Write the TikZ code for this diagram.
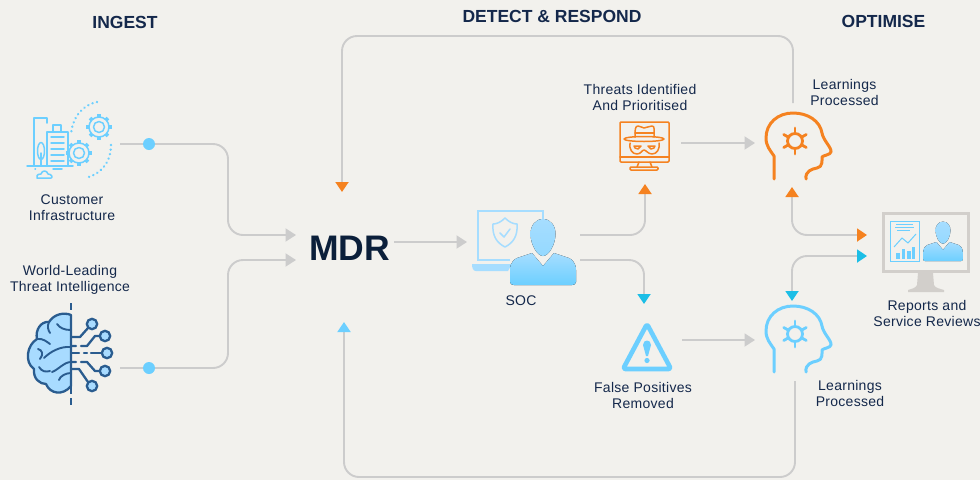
\documentclass[tikz,border=0pt]{standalone}
\usepackage{fontspec}
\setmainfont{Liberation Sans}
\newfontfamily\labelfont[LetterSpace=2]{Liberation Sans}
\usepackage{xcolor}
\usetikzlibrary{calc,arrows.meta}
\definecolor{pagebg}{HTML}{F2F1ED}
\definecolor{ink}{HTML}{14284B}
\definecolor{mdrink}{HTML}{0B1F3A}
\definecolor{flowgray}{HTML}{CCCCCC}
\definecolor{screen}{HTML}{D2CFCB}
\definecolor{sky}{HTML}{6CCFFF}
\definecolor{pale}{HTML}{A6DDFF}
\definecolor{aqua}{HTML}{1CBEE6}
\definecolor{amber}{HTML}{F58220}
\definecolor{brainblue}{HTML}{2A5C8F}
\definecolor{brainfill}{HTML}{A8DBFF}
\tikzset{
  flowline/.style={draw=flowgray, line width=1.9pt, rounded corners=15pt},
  graytip/.style={-{Triangle[length=10.5pt,width=13pt,color=flowgray]}},
  ambertip/.style={-{Triangle[length=10pt,width=13pt,color=amber]}},
  aquatip/.style={-{Triangle[length=10pt,width=13pt,color=aqua]}},
  skytip/.style={-{Triangle[length=10pt,width=13pt,color=sky]}},
  ambertips/.style={{Triangle[length=10pt,width=13pt,color=amber]}-{Triangle[length=10pt,width=13pt,color=amber]}},
  aquatips/.style={{Triangle[length=10pt,width=13pt,color=aqua]}-{Triangle[length=10pt,width=13pt,color=aqua]}},
  heading/.style={text=ink, font=\fontsize{17.5}{20}\selectfont\bfseries},
  lab/.style={text=ink, align=center, inner sep=0pt, font=\labelfont\fontsize{14}{16}\selectfont},
  thinicon/.style={line width=1.5pt, line cap=round, line join=round},
  headline/.style={line width=3pt, line cap=round, line join=round},
  brainline/.style={draw=brainblue, line width=2.3pt, line cap=round, line join=round},
  dotted arc/.style={draw=sky, line width=2.6pt, line cap=round, dash pattern=on .01pt off 4.6pt},
}
% head with a cog, drawn at the orange position and shifted down for the blue one
\newcommand{\headicon}[2]{%
  \begin{scope}[yshift=#2, headline, draw=#1]
    \draw (774,179) -- (774,156) .. controls (770,150) and (766,146) .. (766,138)
      .. controls (766,123) and (778,113) .. (793,113)
      .. controls (808,113) and (820,121) .. (822,133)
      .. controls (823,140) and (832,148) .. (831,152)
      .. controls (830,155) and (824,155) .. (822,157)
      .. controls (822,160) and (823,167) .. (817,168)
      .. controls (812,169) and (805,171) .. (806,179);
    \draw[line width=2.8pt] (795,141) circle[radius=7.5];
    \foreach \a in {30,90,...,330}
      \draw[line width=2.8pt] (795,141) ++(\a:7.5) -- ++(\a:5.5);
  \end{scope}}
% small cog of the infrastructure icon
\newcommand{\cogicon}[2]{%
  \draw[thinicon,draw=sky] (#1,#2) circle[radius=5.5];
  \draw[thinicon,draw=sky] (#1,#2) circle[radius=10];
  \foreach \a in {0,45,...,315}
    \draw[draw=sky, line width=3.6pt] (#1,#2) ++(\a:10) -- ++(\a:2.6);}
% person, origin at the centre of the head
\newcommand{\personicon}[3]{%
  \begin{scope}[shift={(#1,#2)}, scale=#3]
    \fill[top color=pale, bottom color=sky]
      (-33,44) -- (-33,32) .. controls (-33,24) and (-28,21) .. (-26,20)
      -- (-11,15) -- (0,28) -- (11,15) -- (26,20)
      .. controls (28,21) and (33,24) .. (33,32) -- (33,44)
      .. controls (33,46) and (31,47) .. (29,47) -- (-29,47)
      .. controls (-31,47) and (-33,46) .. (-33,44) -- cycle;
    \fill[top color=pale, bottom color=pale!70!sky]
      (0,-19) .. controls (8,-19) and (12.5,-12) .. (12.5,-4)
      .. controls (12.5,6) and (6,18) .. (0,18)
      .. controls (-6,18) and (-12.5,6) .. (-12.5,-4)
      .. controls (-12.5,-12) and (-8,-19) .. (0,-19) -- cycle;
  \end{scope}}

\begin{document}
\begin{tikzpicture}[x=1pt,y=-1pt]
  \useasboundingbox (0,0) rectangle (980,480);
  \fill[pagebg] (0,0) rectangle (980,480);

  % ends of the connectors
  \coordinate (infraout) at (120,144);
  \coordinate (intelout) at (120,368);
  \coordinate (infrabus) at (228,190);
  \coordinate (intelbus) at (228,310);
  \coordinate (mdrinA) at (296,235);
  \coordinate (mdrinB) at (296,260);
  \coordinate (mdrout) at (394,242);
  \coordinate (socin) at (467,242);
  \coordinate (socoutA) at (580,235);
  \coordinate (socoutB) at (580,260);
  \coordinate (threatin) at (645,184);
  \coordinate (falsein) at (644,304);
  \coordinate (threatout) at (681,143);
  \coordinate (falseout) at (682,340);
  \coordinate (headinA) at (755,143);
  \coordinate (headinB) at (755,340);
  \coordinate (headupA) at (792,187);
  \coordinate (headupB) at (792,301);
  \coordinate (reportinA) at (867,235);
  \coordinate (reportinB) at (867,256);
  \coordinate (learnoutA) at (793,103);
  \coordinate (learnoutB) at (795,381);
  \coordinate (looptop) at (560,36);
  \coordinate (loopbottom) at (560,477);
  \coordinate (mdrtop) at (342,192);
  \coordinate (mdrbottom) at (344,322);

  % connectors
  \draw[flowline,graytip] (infraout) -| (infrabus) |- (mdrinA);
  \draw[flowline,graytip] (intelout) -| (intelbus) |- (mdrinB);
  \draw[flowline,graytip] (mdrout) -- (socin);
  \draw[flowline,ambertip] (socoutA) -| (threatin);
  \draw[flowline,aquatip] (socoutB) -| (falsein);
  \draw[flowline,graytip] (threatout) -- (headinA);
  \draw[flowline,graytip] (falseout) -- (headinB);
  \draw[flowline,ambertips] (headupA) |- (reportinA);
  \draw[flowline,aquatips] (headupB) |- (reportinB);
  \draw[flowline,ambertip] (learnoutA) |- (looptop) -| (mdrtop);
  \draw[flowline,skytip] (learnoutB) |- (loopbottom) -| (mdrbottom);
  \node[circle, fill=sky, inner sep=0pt, minimum size=12pt] (infradot) at (149,144) {};
  \node[circle, fill=sky, inner sep=0pt, minimum size=12pt] (inteldot) at (149,368) {};

  % infrastructure icon
  \begin{scope}[thinicon, draw=sky]
    \draw (34,165) -- (34,118) -- (47,118) -- (47,123);
    \draw (47,165) -- (47,132) -- (68,132) -- (68,165);
    \draw (53,132) -- (53,125) -- (61,125) -- (61,132);
    \foreach \y in {137,143,149,155,161}
      \draw (51,\y) -- (64,\y);
    \draw (27,166) -- (73,166);
    \draw (41,151) ellipse[x radius=3.5, y radius=8.5];
    \draw (41,153) -- (41,166);
    \draw (35,169) -- (35.5,169) (53,169) -- (62,169);
    \draw (37,178) .. controls (36,174) and (40,174) .. (41,174)
      .. controls (42,170) and (47,170) .. (48,174)
      .. controls (52,174) and (53,178) .. (51,178) -- cycle;
  \end{scope}
  \cogicon{99}{127}
  \cogicon{79}{153}
  \draw[dotted arc] (97,102) .. controls (82,105) and (72,118) .. (71,135);
  \draw[dotted arc] (111,145) .. controls (111,163) and (100,175) .. (85,178);

  % brain icon
  \draw[brainline, fill=brainfill] (71,315) .. controls (64,312) and (54,314) .. (49,322)
    .. controls (41,321) and (35,330) .. (37,339)
    .. controls (27,345) and (24,362) .. (34,369)
    .. controls (33,379) and (40,384) .. (46,384)
    .. controls (50,394) and (63,396) .. (71,386) -- cycle;
  \draw[brainline, line width=1.9pt]
    (71,330) .. controls (64,330) and (60,328) .. (57,324)
    (49,322) .. controls (47,326) and (48,330) .. (50,333)
    (71,347) .. controls (60,346) and (50,352) .. (44,358)
    (38,349) .. controls (42,350) and (44,354) .. (40,359)
    (37,339) .. controls (43,338) and (47,342) .. (50,344)
    (71,362) .. controls (64,362) and (58,370) .. (52,372)
    (39,367) .. controls (42,372) and (46,372) .. (50,371)
    (71,373) .. controls (66,373) and (60,376) .. (59,380);
  \draw[brainline, line cap=butt, line width=2.6pt] (71,303) -- (71,310) (71,315) -- (71,394) (71,398) -- (71,405);
  \foreach \cx/\cy in {92/324,105/336,107/353,105/371,92/386}
    \draw[brainline, fill=brainfill] (\cx,\cy) circle[radius=5.2];
  \draw[brainline] (72,337) -- (80,337) -- (88,328);
  \draw[brainline] (72,346) -- (76,346) (81,346) -- (87,346) -- (95,336) -- (100,336);
  \draw[brainline] (72,353) -- (79,353) (84,353) -- (87,353) (91,353) -- (102,353);
  \draw[brainline] (72,362) -- (76,362) (81,362) -- (87,362) -- (95,371) -- (100,371);
  \draw[brainline] (72,369) -- (79,369) -- (88,382);

  % soc icon
  \draw[pale, line width=2.1pt] (510,260) -- (478,260) -- (478,211) -- (543,211) -- (543,220);
  \fill[pale] (472,264) -- (512,264) -- (508,271) -- (476,271) .. controls (473,271) and (472,268) .. (472,264) -- cycle;
  \draw[pale, thinicon] (505,218) .. controls (501,222) and (497,224) .. (493,224)
    .. controls (492,236) and (497,243) .. (505,247)
    .. controls (513,243) and (518,236) .. (517,224)
    .. controls (513,224) and (509,222) .. (505,218) -- cycle;
  \draw[pale, thinicon] (500,233) -- (504,237) -- (510,229);
  \personicon{543}{238}{1}

  % threat icon
  \begin{scope}[thinicon, draw=amber]
    \draw[rounded corners=1pt] (620,122) rectangle (669,162);
    \draw (620,157) -- (669,157);
    \draw (639,162) -- (637,167) (650,162) -- (652,167);
    \draw[rounded corners=1pt] (630,167) rectangle (658,170);
    \draw (644,139) ellipse[x radius=20, y radius=2.5];
    \draw (635,137) .. controls (635,130) and (635,126) .. (638,126)
      .. controls (641,126) and (642,128) .. (644,128)
      .. controls (646,128) and (649,126) .. (652,126)
      .. controls (655,126) and (654,130) .. (654,137);
    \draw (635,133) -- (654,133);
    \draw (630,143) .. controls (629,149) and (632,154) .. (637,154)
      .. controls (641,154) and (642,150) .. (644,150)
      .. controls (646,150) and (648,154) .. (652,154)
      .. controls (657,154) and (660,149) .. (659,143);
    \draw (634,146) -- (641,146) -- (638,149) -- (635,148) -- cycle;
    \draw (648,146) -- (655,146) -- (654,148) -- (651,149) -- cycle;
  \end{scope}

  % warning icon
  \draw[sky, line width=4.6pt, line join=round, rounded corners=2.5pt] (647,324) -- (671,369) -- (623,369) -- cycle;
  \fill[sky] (643,345) .. controls (643,339) and (651,339) .. (651,345) -- (648,356) -- (646,356) -- cycle;
  \fill[sky] (647,360.5) circle[radius=2.6];

  % heads
  \headicon{amber}{0pt}
  \headicon{sky}{-193pt}

  % reports icon
  \draw[screen, line width=3pt] (883.5,213.5) rectangle (968,271.5);
  \fill[screen] (918,273) -- (933,273) -- (934,285) .. controls (935,288) and (941,289) .. (944,290)
    -- (944,292) -- (908,292) -- (908,290) .. controls (911,289) and (916,288) .. (917,285) -- cycle;
  \draw[sky, line width=1pt] (890,221) rectangle (919,261);
  \draw[sky, line width=1pt] (896,224) -- (913,224) (895,227) -- (914,227) (897,230) -- (910,230);
  \draw[sky, line width=1pt] (894,247) -- (902,238) -- (908,243) -- (916,234);
  \foreach \bx/\by in {896/253,901.5/249,907/251,911.5/247}
    \fill[sky] (\bx,\by) rectangle ++(3.5,259-\by);
  \personicon{943}{233}{.6}

  % headings and labels
  \node[heading] (ingest) at (125,22) {INGEST};
  \node[heading] (detect) at (552,16) {DETECT \& RESPOND};
  \node[heading] (optimise) at (883.5,21) {OPTIMISE};
  \node[text=mdrink, font=\fontsize{35.5}{38}\selectfont\bfseries] (mdr) at (349.5,248) {MDR};
  \node[lab] (infra) at (72,208) {Customer\\Infrastructure};
  \node[lab] (intel) at (70,279.5) {World-Leading\\Threat Intelligence};
  \node[lab] (threats) at (640,97) {Threats Identified\\And Prioritised};
  \node[lab] (learnA) at (844.5,92) {Learnings\\Processed};
  \node[lab] (soc) at (521,301) {SOC};
  \node[lab] (falsepos) at (643,395) {False Positives\\Removed};
  \node[lab] (learnB) at (850,393) {Learnings\\Processed};
  \node[lab] (reports) at (927,313) {Reports and\\Service Reviews};
\end{tikzpicture}
\end{document}
